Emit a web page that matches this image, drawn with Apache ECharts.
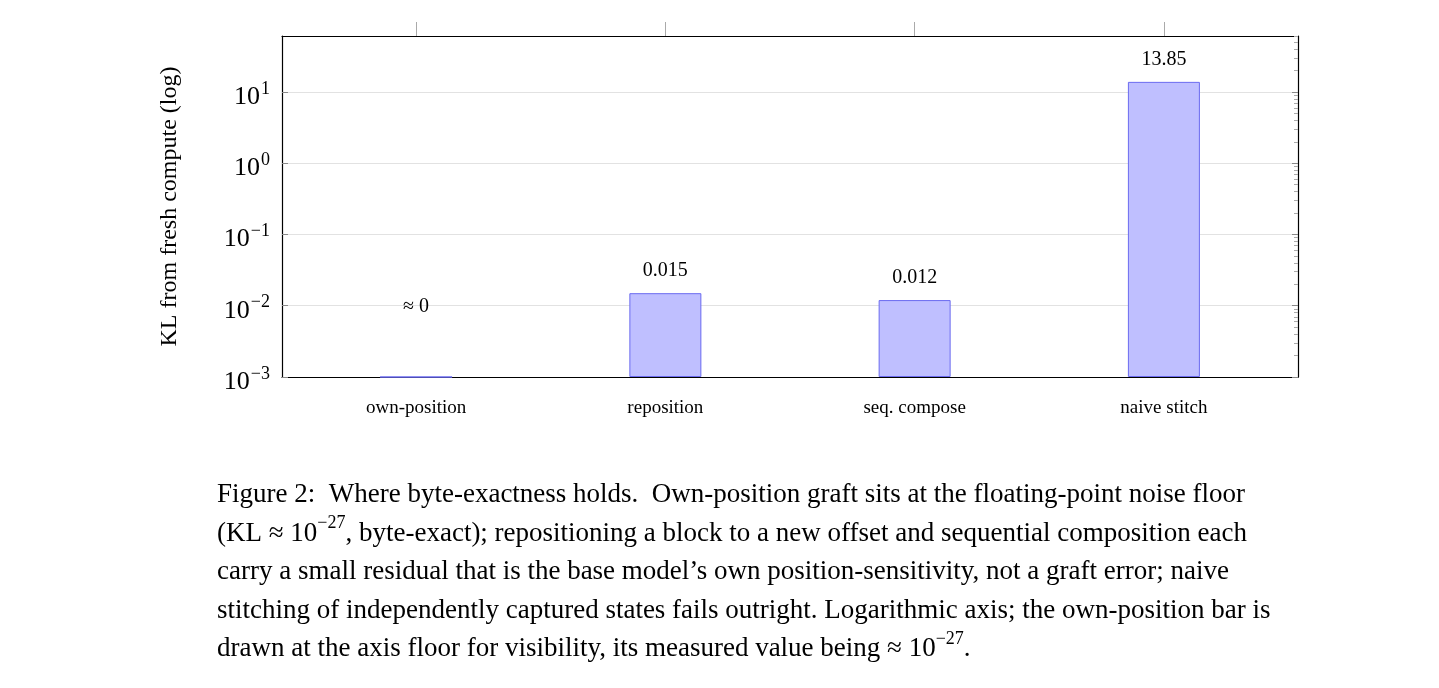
<!DOCTYPE html>
<html><head><meta charset="utf-8">
<script src="https://cdn.jsdelivr.net/npm/echarts@6/dist/echarts.min.js"></script>
<style>html,body{margin:0;padding:0;background:#fff}#c{width:1439px;height:688px}</style>
</head><body><div id="c"></div>
<script>
const categories = ['own-position', 'reposition', 'seq. compose', 'naive stitch'];
const values = [0.001, 0.015, 0.012, 13.85];
const labels = ['≈ 0', '0.015', '0.012', '13.85'];
const yMinExp = -3, yMaxExp = 1.785;
const majorExps = [-3, -2, -1, 0, 1];

// axis works in "decades above floor" so bars grow from the floor
const off = -yMinExp;
const major = majorExps.map(e => e + off);
const minor = [];
for (let e = -3; e <= 1; e++) for (let k = 2; k <= 9; k++) { const v = e + Math.log10(k); if (v <= yMaxExp) minor.push(v + off); }
const font = 'Liberation Serif';
const chart = echarts.init(document.getElementById('c'));
const data = values.map((v, i) => ({
  value: [i, Math.log10(v) + off], name: labels[i],
  label: i === 0 ? { offset: [0, -48] } : {}
}));
const yBase = { type: 'value', min: 0, max: yMaxExp + off, axisLine: { show: false, onZero: false }, splitLine: { show: false }, axisLabel: { show: false } };
chart.setOption({
  animation: false,
  grid: { left: 282, right: 141, top: 36, bottom: 311, containLabel: false },
  xAxis: [{
    type: 'value', min: -0.538, max: 3.538,
    axisLine: { show: true, onZero: false, lineStyle: { color: '#000', width: 1.2 } },
    axisTick: { show: false }, splitLine: { show: false },
    axisLabel: { customValues: [0, 1, 2, 3], formatter: v => categories[v], fontFamily: font, fontSize: 19, color: '#000', margin: 22 }
  }, {
    type: 'value', min: -0.538, max: 3.538, position: 'top',
    axisLine: { show: true, onZero: false, lineStyle: { color: '#000', width: 1.2 } },
    axisTick: { show: true, customValues: [0, 1, 2, 3], inside: false, length: 14, lineStyle: { color: '#aaa' } },
    axisLabel: { show: false }, splitLine: { show: false }
  }],
  yAxis: [
    Object.assign({}, yBase, {
      interval: 1,
      axisLine: { show: true, onZero: false, lineStyle: { color: '#000', width: 1.2 } },
      axisTick: { show: true, customValues: major, inside: true, length: 6, lineStyle: { color: '#888' } },
      splitLine: { show: true, lineStyle: { color: '#e2e2e2' } },
      axisLabel: { show: true, customValues: major, fontFamily: font, fontSize: 26, color: '#000', margin: 12,
        formatter: v => '{b|10}{s|' + String(Math.round(v - off)).replace('-', '−') + '}',
        rich: { b: { fontSize: 26, fontFamily: font, padding: [10, 0, 0, 0] }, s: { fontSize: 18, fontFamily: font, padding: [0, 0, 6, 1] } } },
      name: 'KL from fresh compute (log)', nameLocation: 'middle', nameGap: 100,
      nameTextStyle: { fontFamily: font, fontSize: 24, color: '#000' }
    }),
    Object.assign({}, yBase, { axisTick: { show: true, customValues: minor, inside: true, length: 4, lineStyle: { color: '#aaa' } } }),
    Object.assign({}, yBase, { position: 'right', axisLine: { show: true, onZero: false, lineStyle: { color: '#000', width: 1.2 } },
      axisTick: { show: true, customValues: major, inside: true, length: 6, lineStyle: { color: '#888' } } }),
    Object.assign({}, yBase, { position: 'right', axisTick: { show: true, customValues: minor, inside: true, length: 4, lineStyle: { color: '#aaa' } } })
  ],
  series: [{
    type: 'bar', data: data, barWidth: 72,
    itemStyle: { color: '#bfbfff', borderColor: '#6b6bf0', borderWidth: 1 },
    label: { show: true, position: 'top', distance: 12, formatter: p => p.name, fontFamily: font, fontSize: 20, color: '#000' }
  }],
  graphic: [{
    type: 'text', left: 217, top: 476,
    style: {
      fontFamily: font, fontSize: 27, lineHeight: 38.5, fill: '#000',
      text: 'Figure 2:  Where byte-exactness holds.  Own-position graft sits at the floating-point noise floor\n(KL ≈ 10{s|−27}, byte-exact); repositioning a block to a new offset and sequential composition each\ncarry a small residual that is the base model’s own position-sensitivity, not a graft error; naive\nstitching of independently captured states fails outright. Logarithmic axis; the own-position bar is\ndrawn at the axis floor for visibility, its measured value being ≈ 10{s|−27}.',
      rich: { s: { fontFamily: font, fontSize: 18, verticalAlign: 'top', lineHeight: 38.5, padding: [0,0,10,0] } }
    }
  }]
});
</script></body></html>
